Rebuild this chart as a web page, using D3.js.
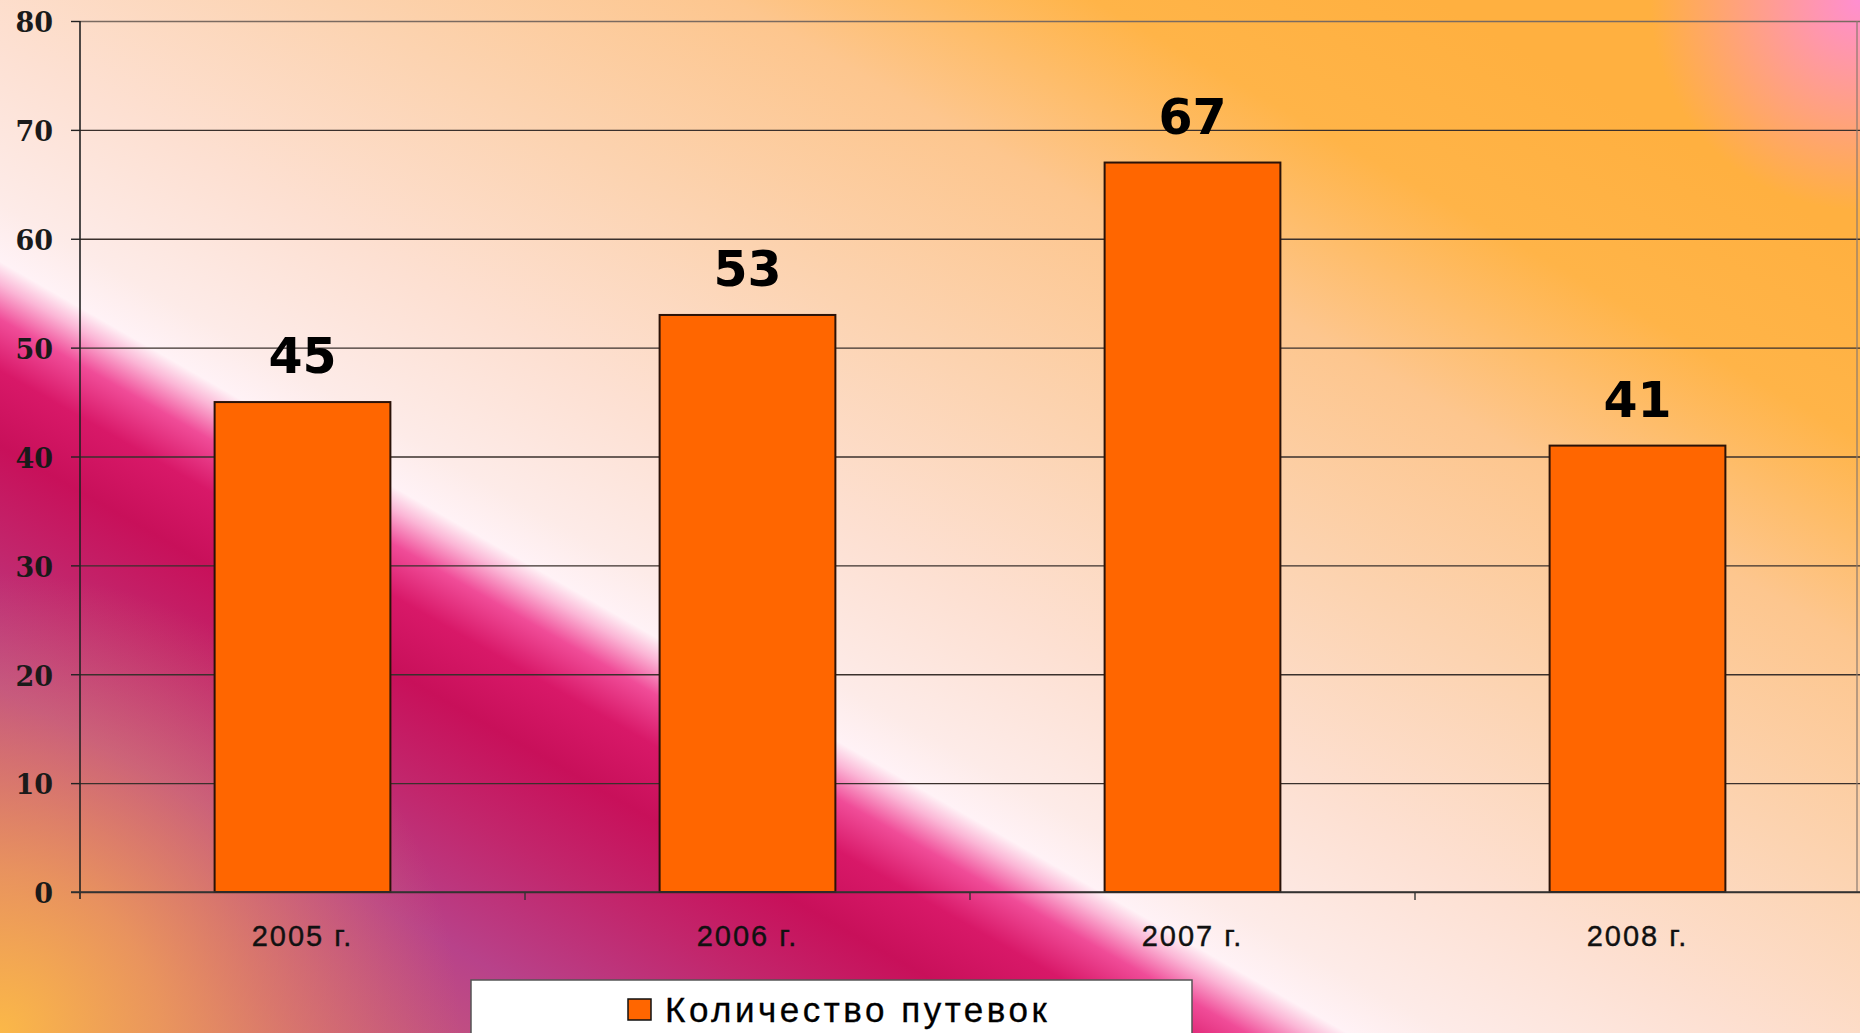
<!DOCTYPE html>
<html>
<head>
<meta charset="utf-8">
<script src="https://cdn.jsdelivr.net/npm/d3@7"></script>
<style>
  html, body { margin: 0; padding: 0; overflow: hidden; }
  svg { display: block; }
</style>
</head>
<body>
<div id="chart"></div>
<script>
// Bar chart: number of vouchers by year

var categories = ["2005 г.", "2006 г.", "2007 г.", "2008 г."];
var values = [45, 53, 67, 41];
var yTicks = [0, 10, 20, 30, 40, 50, 60, 70, 80];
var seriesName = "Количество путевок";

var width = 1860;
var height = 1033;

var margin = { top: 21, right: 0, bottom: 141, left: 80 };
var innerWidth = width - margin.left - margin.right;
var innerHeight = height - margin.top - margin.bottom;

var svg = d3.select("#chart")
  .append("svg")
  .attr("width", width)
  .attr("height", height);

// ---- background ----
var defs = svg.append("defs");

// main gradient runs across the diagonal band
var p0 = [0, 273];
var n = [-0.497, 0.868];
var dStart = -950, dEnd = 700;
var bg = defs.append("linearGradient")
  .attr("id", "bg")
  .attr("gradientUnits", "userSpaceOnUse")
  .attr("x1", p0[0] + dStart * n[0]).attr("y1", p0[1] + dStart * n[1])
  .attr("x2", p0[0] + dEnd * n[0]).attr("y2", p0[1] + dEnd * n[1]);

var bgStops = [
  [-950, "#ffb040"], [-780, "#ffb448"], [-600, "#fdc68e"], [-400, "#fcd3b0"],
  [-200, "#fde0d2"], [-60, "#fdebe8"], [-10, "#fff2f6"], [10, "#fbb6d6"],
  [40, "#f04c98"], [85, "#d81868"], [150, "#c8105a"], [240, "#c2266c"],
  [360, "#b8428a"], [500, "#c85a7a"], [700, "#e08a60"]
];
bg.selectAll("stop")
  .data(bgStops)
  .enter()
  .append("stop")
  .attr("offset", function(d) { return (d[0] - dStart) / (dEnd - dStart); })
  .attr("stop-color", function(d) { return d[1]; });

var corner = defs.append("radialGradient")
  .attr("id", "corner")
  .attr("gradientUnits", "userSpaceOnUse")
  .attr("cx", 0).attr("cy", height).attr("r", 460);
corner.append("stop").attr("offset", 0).attr("stop-color", "#fbb848").attr("stop-opacity", 1);
corner.append("stop").attr("offset", 0.35).attr("stop-color", "#f0a058").attr("stop-opacity", 0.8);
corner.append("stop").attr("offset", 1).attr("stop-color", "#e08068").attr("stop-opacity", 0);

var pink = defs.append("radialGradient")
  .attr("id", "pink")
  .attr("gradientUnits", "userSpaceOnUse")
  .attr("cx", width).attr("cy", 0).attr("r", 210);
pink.append("stop").attr("offset", 0).attr("stop-color", "#ff8ed0").attr("stop-opacity", 1);
pink.append("stop").attr("offset", 1).attr("stop-color", "#ff8ed0").attr("stop-opacity", 0);

svg.append("rect").attr("width", width).attr("height", height).attr("fill", "url(#bg)");
svg.append("rect").attr("width", width).attr("height", height).attr("fill", "url(#corner)");
svg.append("rect").attr("width", width).attr("height", height).attr("fill", "url(#pink)");

// ---- scales ----
var xScale = d3.scaleBand()
  .domain(categories)
  .range([0, innerWidth])
  .paddingInner(0.605)
  .paddingOuter(0.3025);

var yScale = d3.scaleLinear()
  .domain([0, 80])
  .range([innerHeight, 0]);

var chartGroup = svg.append("g")
  .attr("transform", "translate(" + margin.left + "," + margin.top + ")");

// gridlines
var grid = chartGroup.append("g")
  .call(d3.axisLeft(yScale).tickValues(yTicks).tickSize(-innerWidth).tickFormat(""));
grid.select(".domain").remove();
grid.selectAll("line")
  .attr("stroke", function(d) { return d === 80 ? "#7a6a60" : "#3a302c"; })
  .attr("stroke-width", 1.4);

// right border
chartGroup.append("line")
  .attr("x1", innerWidth - 3).attr("x2", innerWidth - 3)
  .attr("y1", 0).attr("y2", innerHeight)
  .attr("stroke", "#8a7a70")
  .attr("stroke-width", 1.2);

// bars
chartGroup.selectAll(".bar")
  .data(values)
  .enter()
  .append("rect")
  .attr("class", "bar")
  .attr("x", function(d, i) { return xScale(categories[i]); })
  .attr("y", function(d) { return yScale(d); })
  .attr("width", xScale.bandwidth())
  .attr("height", function(d) { return innerHeight - yScale(d); })
  .attr("fill", "#ff6600")
  .attr("stroke", "#2a1208")
  .attr("stroke-width", 2);

// value labels
chartGroup.selectAll(".value-label")
  .data(values)
  .enter()
  .append("text")
  .attr("class", "value-label")
  .attr("x", function(d, i) { return xScale(categories[i]) + xScale.bandwidth() / 2; })
  .attr("y", function(d) { return yScale(d) - 29; })
  .attr("text-anchor", "middle")
  .style("font-family", "DejaVu Sans, sans-serif")
  .style("font-weight", "bold")
  .style("font-size", "49px")
  .attr("fill", "#000")
  .text(function(d) { return d; });

// y axis
var yAxisGroup = chartGroup.append("g")
  .call(d3.axisLeft(yScale).tickValues(yTicks).tickSize(9).tickPadding(18));
yAxisGroup.select(".domain")
  .attr("stroke", "#222")
  .attr("stroke-width", 1.6)
  .attr("d", "M0,0V" + (innerHeight + 7));
yAxisGroup.selectAll("line").attr("stroke", "#222").attr("stroke-width", 1.4);
yAxisGroup.selectAll("text")
  .style("font-family", "DejaVu Serif, serif")
  .style("font-weight", "bold")
  .style("font-size", "27px")
  .attr("fill", "#1a1a1a")
  .attr("dy", "0.4em");

// x axis
var xAxisGroup = chartGroup.append("g")
  .attr("transform", "translate(0," + innerHeight + ")")
  .call(d3.axisBottom(xScale).tickSize(0).tickPadding(33));
xAxisGroup.select(".domain")
  .attr("stroke", "#333")
  .attr("stroke-width", 1.6)
  .attr("d", "M-9,0H" + innerWidth);
xAxisGroup.selectAll("text")
  .style("font-family", "Liberation Sans, Arial, sans-serif")
  .style("font-size", "29px")
  .style("letter-spacing", "2px")
  .attr("fill", "#111")
  .attr("stroke", "#111")
  .attr("stroke-width", 0.4);

// tick marks between categories
xAxisGroup.selectAll(".sep")
  .data(categories.slice(1))
  .enter()
  .append("line")
  .attr("class", "sep")
  .attr("x1", function(d) { return xScale(d) - xScale.step() * xScale.paddingInner() / 2; })
  .attr("x2", function(d) { return xScale(d) - xScale.step() * xScale.paddingInner() / 2; })
  .attr("y1", 0)
  .attr("y2", 8)
  .attr("stroke", "#333")
  .attr("stroke-width", 1.4);

// legend
var legend = svg.append("g").attr("transform", "translate(471,980)");
legend.append("rect")
  .attr("width", 721)
  .attr("height", 70)
  .attr("fill", "#fff")
  .attr("stroke", "#555")
  .attr("stroke-width", 1.5);
legend.append("rect")
  .attr("x", 157)
  .attr("y", 19)
  .attr("width", 23)
  .attr("height", 21)
  .attr("fill", "#ff6600")
  .attr("stroke", "#111")
  .attr("stroke-width", 1.5);
legend.append("text")
  .attr("x", 194)
  .attr("y", 42)
  .style("font-family", "Liberation Sans, Arial, sans-serif")
  .style("font-size", "35px")
  .style("letter-spacing", "3.5px")
  .attr("fill", "#000")
  .attr("stroke", "#000")
  .attr("stroke-width", 0.3)
  .text(seriesName);
</script>
</body>
</html>
